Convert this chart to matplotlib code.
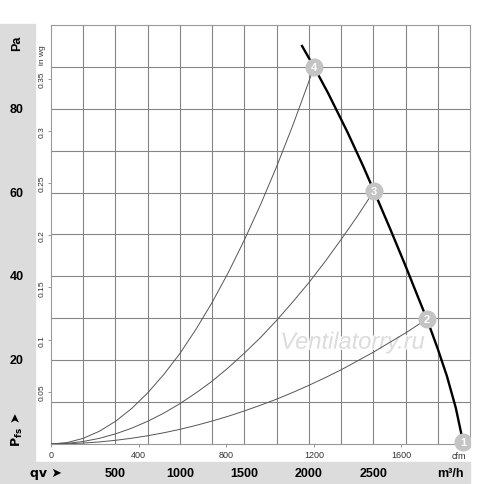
import matplotlib
matplotlib.use("Agg")
import matplotlib.pyplot as plt
import matplotlib.transforms as mtransforms
import matplotlib.patheffects as pe
from matplotlib.patches import Rectangle

plt.rcParams['font.family'] = ['Liberation Sans', 'DejaVu Sans']

# flow in m3/h, pressure in Pa
fan_q = [1947, 2040, 2150, 2300, 2420, 2505, 2630, 2750, 2862, 2916, 3000, 3071, 3140, 3196]
fan_p = [95.0, 90.0, 83.7, 74.4, 66.4, 60.4, 51.4, 42.5, 33.9, 29.8, 22.7, 16.2, 8.6, 0.5]

sys4_q = [0, 125, 250, 375, 500, 625, 750, 875, 1000, 1125, 1250, 1375, 1500,
          1625, 1750, 1875, 2000, 2040]
sys4_p = [0, 0.34, 1.35, 3.04, 5.41, 8.45, 12.2, 16.6, 21.6, 27.4, 33.8, 40.9, 48.7,
          57.1, 66.2, 76.0, 86.5, 90.0]
sys3_q = [0, 125, 250, 375, 500, 625, 750, 875, 1000, 1125, 1250, 1375, 1500,
          1625, 1750, 1875, 2000, 2125, 2250, 2375, 2505]
sys3_p = [0, 0.15, 0.60, 1.35, 2.41, 3.76, 5.42, 7.37, 9.63, 12.2, 15.0, 18.2, 21.7,
          25.4, 29.5, 33.9, 38.5, 43.5, 48.8, 54.3, 60.4]
sys2_q = [0, 125, 250, 375, 500, 625, 750, 875, 1000, 1125, 1250, 1375, 1500,
          1625, 1750, 1875, 2000, 2125, 2250, 2375, 2500, 2625, 2750, 2875, 2916]
sys2_p = [0, 0.05, 0.22, 0.49, 0.88, 1.37, 1.97, 2.68, 3.5, 4.44, 5.48, 6.63, 7.89,
          9.26, 10.7, 12.3, 14.0, 15.8, 17.7, 19.8, 21.9, 24.2, 26.5, 29.0, 29.8]

op_q = [3196, 2916, 2505, 2040]
op_p = [0.5, 29.8, 60.4, 90.0]
op_labels = ["1", "2", "3", "4"]

pa_labels = [20, 40, 60, 80]
m3h_labels = [500, 1000, 1500, 2000, 2500]
inwg_ticks = [0.05, 0.1, 0.15, 0.2, 0.25, 0.3, 0.35]
cfm_ticks = [0, 400, 800, 1200, 1600]

PA_PER_INWG = 249.089
M3H_PER_CFM = 1.69901
q_max, p_max = 3250, 100

fig = plt.figure(figsize=(5.0, 4.85), dpi=100)
ax = fig.add_axes([51 / 500, 40 / 485, 419 / 500, 419 / 485])
ax.set_xlim(0, q_max)
ax.set_ylim(0, p_max)

# grey bands
band = '#dcdcdc'
fig.patches.append(Rectangle((0, 0), 35 / 500, 460 / 485, transform=fig.transFigure,
                             color=band, zorder=-5))
fig.patches.append(Rectangle((0, 0), 470 / 500, 22 / 485, transform=fig.transFigure,
                             color=band, zorder=-5))

# grid
for q in range(250, q_max, 250):
    ax.axvline(q, color='#858585', lw=0.8, zorder=1)
for p in range(10, p_max, 10):
    ax.axhline(p, color='#858585', lw=0.8, zorder=1)
for s in ax.spines.values():
    s.set_color('#999999')
    s.set_linewidth(0.8)

# curves
for q, p in [(sys4_q, sys4_p), (sys3_q, sys3_p), (sys2_q, sys2_p)]:
    ax.plot(q, p, color='#555555', lw=0.7, zorder=3)
ax.plot(fan_q, fan_p, color='black', lw=1.7, zorder=4)

# operating points: clipped at the right edge only
clip = Rectangle((0, -0.1), 1, 1.2, transform=ax.transAxes, visible=False)
ax.add_patch(clip)
for q, p, t in zip(op_q, op_p, op_labels):
    m, = ax.plot(q, p, 'o', ms=12, color='#c4c4c4', mec='#c4c4c4', zorder=5)
    txt = ax.text(q, p, t, color='white', fontsize=8, fontweight='bold', ha='center',
                  va='center', zorder=6)
    m.set_clip_path(clip)
    txt.set_clip_path(clip)

# watermark
ax.text(0.72, 0.243, 'Ventilatorry.ru', transform=ax.transAxes, fontsize=17,
        style='italic', color='#dcdcdc', ha='center', va='center', zorder=2,
        path_effects=[pe.withStroke(linewidth=1.5, foreground='white')])

# in wg ticks (left) and cfm ticks (bottom)
ax.set_yticks([v * PA_PER_INWG for v in inwg_ticks])
ax.set_yticklabels([f"{v:g}" for v in inwg_ticks], rotation=90, va='center',
                   fontsize=6, color='#333333')
ax.set_xticks([v * M3H_PER_CFM for v in cfm_ticks])
ax.set_xticklabels([str(v) for v in cfm_ticks], fontsize=6.5, color='#333333')
ax.tick_params(axis='both', length=2, width=0.6, color='#888888', pad=2)
ax.text(-9 / 419 * q_max, 93, 'in wg', rotation=90, fontsize=6, color='#333333',
        ha='center', va='center', clip_on=False)
ax.text(3165, -1.6, 'cfm', fontsize=6.5, color='#333333', ha='center', va='top',
        clip_on=False)

# band labels
ty = mtransforms.blended_transform_factory(fig.transFigure, ax.transData)
for v in pa_labels:
    fig.text(17 / 500, v, str(v), transform=ty, ha='center', va='center',
             fontsize=9, fontweight='bold')
fig.text(17 / 500, 1 - 43 / 485, 'Pa', rotation=90, ha='center', va='center',
         fontsize=9, fontweight='bold')
fig.text(17 / 500, 38 / 485, r'P$_{\mathregular{fs}}$ ➤', rotation=90, ha='center',
         va='bottom', fontsize=9, fontweight='bold', family=['DejaVu Sans'])

tx = mtransforms.blended_transform_factory(ax.transData, fig.transFigure)
for v in m3h_labels:
    fig.text(v, 11 / 485, str(v), transform=tx, ha='center', va='center',
             fontsize=9, fontweight='bold')
fig.text(30 / 500, 11 / 485, 'qv ➤', ha='left', va='center', fontsize=9,
         fontweight='bold', family=['DejaVu Sans'])
fig.text(464 / 500, 11 / 485, 'm³/h', ha='right', va='center', fontsize=9,
         fontweight='bold')

fig.savefig('out.png', dpi=100)
